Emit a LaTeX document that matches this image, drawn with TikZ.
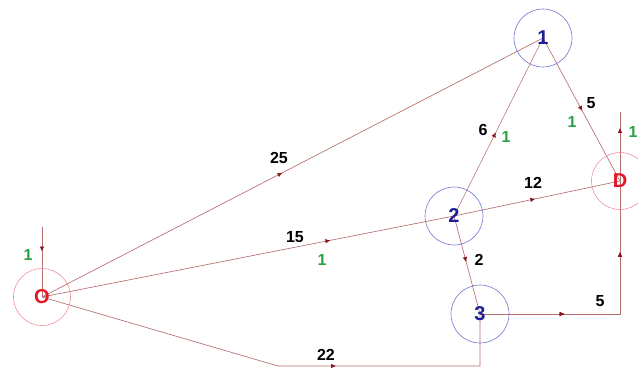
\documentclass[tikz,border=0pt]{standalone}
\usepackage{fontspec}
\setmainfont{Liberation Sans}
\usetikzlibrary{decorations.markings,arrows.meta,backgrounds}
\definecolor{edgecol}{RGB}{180,110,110}
\definecolor{tipcol}{RGB}{140,20,30}
\definecolor{bluecirc}{RGB}{115,115,215}
\definecolor{pinkcirc}{RGB}{240,145,155}
\definecolor{nodeblue}{RGB}{30,30,150}
\definecolor{nodered}{RGB}{230,20,40}
\definecolor{flowgreen}{RGB}{40,160,70}
\tikzset{
  bluenode/.style={circle,draw=bluecirc,line width=0.6pt,minimum size=58pt,inner sep=0pt,
    text=nodeblue,font=\bfseries\fontsize{20}{20}\selectfont},
  rednode/.style={circle,draw=pinkcirc,line width=0.6pt,minimum size=57pt,inner sep=0pt,
    text=nodered,font=\bfseries\fontsize{20}{20}\selectfont},
  edgeline/.style={draw=edgecol,line width=0.65pt},
  midtip/.style={postaction={decorate},decoration={markings,
    mark=at position #1 with {\arrow[tipcol]{Latex[length=5pt,width=4.5pt]}}}},
  costlbl/.style={text=black,font=\bfseries\fontsize{16}{16}\selectfont,inner sep=0pt},
  flowlbl/.style={text=flowgreen,font=\bfseries\fontsize{16}{16}\selectfont,inner sep=0pt}
}
\begin{document}
\begin{tikzpicture}[x=1pt,y=-1pt]
\useasboundingbox (0,0) rectangle (638,369);
\node[bluenode] (n1) at (543,38) {1};
\node[bluenode] (n2) at (454,216) {2};
\node[bluenode] (n3) at (480,314) {3};
\node[rednode] (O) at (42,297) {O};
\node[rednode] (D) at (620,181) {D};
\coordinate (Oin) at (42,227);
\coordinate (Dout) at (620,112);
\coordinate (b1) at (278,366);
\coordinate (b2) at (480,366);
\coordinate (r1) at (620,314);
\begin{scope}[on background layer]
\path[edgeline,midtip=0.48] (O.center) -- (n1.center);
\path[edgeline,midtip=0.70] (O.center) -- (n2.center);
\path[edgeline,midtip=0.47] (n2.center) -- (n1.center);
\path[edgeline,midtip=0.51] (n1.center) -- (D.center);
\path[edgeline,midtip=0.49] (n2.center) -- (D.center);
\path[edgeline,midtip=0.47] (n2.center) -- (n3.center);
\path[edgeline,midtip=0.31,midtip=0.74] (n3.center) -- (r1) -- (D.center);
\path[edgeline,midtip=0.608] (O.center) -- (b1) -- (b2) -- (n3.center);
\path[edgeline,midtip=0.35] (Oin) -- (O.center);
\path[edgeline,midtip=0.77] (D.center) -- (Dout);
\end{scope}
\node[costlbl] (c25) at (279,158) {25};
\node[costlbl] (c15) at (295,237) {15};
\node[costlbl] (c22) at (326,355) {22};
\node[costlbl] (c6) at (483,130) {6};
\node[costlbl] (c5a) at (591,103) {5};
\node[costlbl] (c12) at (533,183) {12};
\node[costlbl] (c2) at (479,260) {2};
\node[costlbl] (c5b) at (600,301) {5};
\node[flowlbl] (f0) at (28,255) {1};
\node[flowlbl] (f1) at (322,260) {1};
\node[flowlbl] (f2) at (506,137) {1};
\node[flowlbl] (f3) at (572,122) {1};
\node[flowlbl] (f4) at (633,132) {1};
\end{tikzpicture}
\end{document}
